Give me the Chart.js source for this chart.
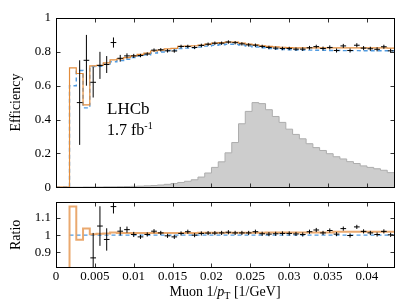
<!DOCTYPE html>
<html><head><meta charset="utf-8">
<script src="https://cdn.jsdelivr.net/npm/chart.js@4.4.1/dist/chart.umd.min.js"></script>
<style>
html,body{margin:0;padding:0;background:#fff;}
#wrap{position:relative;width:407px;height:305px;overflow:hidden;font-family:"Liberation Serif","Times New Roman",serif;color:#000;}
#c1{position:absolute;left:0;top:0;width:407px;height:200px;}
#c2{position:absolute;left:0;top:190px;width:407px;height:115px;}
.lbl{position:absolute;white-space:nowrap;}
</style></head><body>
<div id="wrap">
<canvas id="c1" width="407" height="200"></canvas>
<canvas id="c2" width="407" height="115"></canvas>
<div class="lbl" style="left:107px;top:99px;font-size:17px;line-height:20px;">LHCb</div>
<div class="lbl" style="left:107px;top:120px;font-size:16px;line-height:20px;">1.7 fb<span style="font-size:10px;position:relative;top:-6px">-1</span></div>
<div class="lbl" style="left:56px;width:338px;top:284px;text-align:center;font-size:14px;line-height:16px;">Muon 1/<i>p</i><span style="font-size:10px;position:relative;top:3px">T</span> [1/GeV]</div>
</div>
<script>
// ---- data (50 bins of 1/pT, width 0.00087 GeV^-1) ----
const binWidth = 0.00087;
const xMax = 0.0435;
const xTickValues = [0, 0.005, 0.01, 0.015, 0.02, 0.025, 0.03, 0.035, 0.04];
const xTickLabels = ["0", "0.005", "0.01", "0.015", "0.02", "0.025", "0.03", "0.035", "0.04"];
const effTickValues = [0, 0.2, 0.4, 0.6, 0.8, 1];
const effTickLabels = ["0", "0.2", "0.4", "0.6", "0.8", "1"];
const ratioTickValues = [0.9, 1, 1.1];
const ratioTickLabels = ["0.9", "1", "1.1"];

// data efficiency (black points)
const effData = [null, null, null, 0.50, 0.75, 0.62, 0.72, 0.725, 0.855, 0.762,
  0.776, 0.776, 0.778, 0.787, 0.81, 0.812, 0.806, 0.805, 0.832, 0.832,
  0.826, 0.838, 0.845, 0.851, 0.851, 0.858, 0.854, 0.847, 0.841, 0.839,
  0.832, 0.826, 0.822, 0.82, 0.82, 0.816, 0.816, 0.824, 0.831, 0.82,
  0.826, 0.808, 0.835, 0.808, 0.839, 0.822, 0.818, 0.815, 0.83, 0.806];
const effErr = [null, null, null, 0.25, 0.15, 0.09, 0.08, 0.05, 0.03, 0.02,
  0.015, 0.012, 0.01, 0.01, 0.01, 0.01, 0.01, 0.01, 0.01, 0.01,
  0.01, 0.01, 0.01, 0.01, 0.01, 0.01, 0.01, 0.01, 0.01, 0.01,
  0.01, 0.01, 0.01, 0.01, 0.01, 0.01, 0.011, 0.011, 0.011, 0.011,
  0.012, 0.012, 0.012, 0.012, 0.012, 0.012, 0.012, 0.012, 0.012, 0.012];
// orange simulation (solid step)
const effOrange = [0, 0, 0.705, 0.672, 0.487, 0.717, 0.72, 0.735, 0.752, 0.758,
  0.766, 0.776, 0.785, 0.792, 0.805, 0.81, 0.818, 0.82, 0.832, 0.834,
  0.836, 0.84, 0.846, 0.851, 0.855, 0.858, 0.857, 0.852, 0.846, 0.842,
  0.836, 0.832, 0.829, 0.827, 0.825, 0.824, 0.824, 0.824, 0.823, 0.823,
  0.823, 0.823, 0.823, 0.823, 0.823, 0.823, 0.823, 0.823, 0.823, 0.822];
// blue simulation (dashed step)
const effBlue = [0, 0, 0.60, 0.69, 0.469, 0.713, 0.714, 0.728, 0.741, 0.748,
  0.756, 0.766, 0.775, 0.782, 0.793, 0.799, 0.807, 0.81, 0.82, 0.822,
  0.824, 0.828, 0.834, 0.839, 0.842, 0.845, 0.844, 0.84, 0.834, 0.829,
  0.824, 0.82, 0.816, 0.814, 0.812, 0.811, 0.81, 0.81, 0.809, 0.809,
  0.808, 0.808, 0.807, 0.807, 0.807, 0.806, 0.806, 0.806, 0.806, 0.806];
// grey 1/pT distribution (arbitrary normalisation)
const histGrey = [0, 0, 0, 0, 0.001, 0.001, 0.001, 0.002, 0.002, 0.003,
  0.004, 0.005, 0.006, 0.008, 0.01, 0.013, 0.017, 0.022, 0.028, 0.035,
  0.044, 0.06, 0.084, 0.117, 0.15, 0.203, 0.264, 0.375, 0.448, 0.50,
  0.494, 0.458, 0.418, 0.383, 0.343, 0.312, 0.286, 0.257, 0.234, 0.217,
  0.198, 0.18, 0.167, 0.151, 0.14, 0.126, 0.117, 0.109, 0.1, 0.086];
// ratio panel
const ratioData = [null, null, null, null, null, 0.868, 1.053, 0.975, 1.166, 1.023,
  1.032, 1.004, 0.99, 1.004, 1.023, 1.013, 0.996, 0.99, 1.01, 1.02,
  1.0, 1.01, 1.012, 1.012, 1.013, 1.017, 1.013, 1.013, 1.013, 1.02,
  1.008, 1.006, 1.008, 1.01, 1.01, 1.007, 1.004, 1.02, 1.03, 1.013,
  1.027, 1.006, 1.038, 0.998, 1.048, 1.022, 1.013, 1.004, 1.022, 1.002];
const ratioErr = [null, null, null, null, null, 0.145, 0.115, 0.065, 0.04, 0.025,
  0.018, 0.015, 0.012, 0.012, 0.012, 0.012, 0.012, 0.012, 0.012, 0.012,
  0.012, 0.012, 0.012, 0.012, 0.012, 0.012, 0.012, 0.012, 0.012, 0.012,
  0.012, 0.012, 0.012, 0.012, 0.012, 0.012, 0.012, 0.012, 0.012, 0.012,
  0.012, 0.012, 0.012, 0.012, 0.012, 0.012, 0.012, 0.012, 0.012, 0.012];
const ratioOrange = [0, 0, 1.166, 0.973, 1.038, 1.006, 1.008, 1.01, 1.015, 1.012,
  1.012, 1.012, 1.012, 1.012, 1.012, 1.012, 1.012, 1.012, 1.012, 1.012,
  1.012, 1.014, 1.014, 1.014, 1.014, 1.014, 1.014, 1.014, 1.014, 1.014,
  1.014, 1.016, 1.016, 1.016, 1.016, 1.016, 1.016, 1.016, 1.016, 1.016,
  1.016, 1.02, 1.02, 1.02, 1.02, 1.02, 1.02, 1.02, 1.02, 1.02];
const ratioBlue = [null, null, 1, 1, 1, 1, 1, 1, 1, 1,
  1, 1, 1, 1, 1, 1, 1, 1, 1, 1,
  1, 1, 1, 1, 1, 1, 1, 1, 1, 1,
  1, 1, 1, 1, 1, 1, 1, 1, 1, 1,
  1, 1, 1, 1, 1, 1, 1, 1, 1, 1];

// ---- helpers ----
const FONT = '"Liberation Serif","Times New Roman",serif';
function steps(vals) {
  const pts = [];
  let last = null;
  vals.forEach((v, i) => { if (v !== null) { pts.push({x: i * binWidth, y: v}); last = v; } });
  pts.push({x: vals.length * binWidth, y: last});
  return pts;
}

const framePlugin = {
  id: 'framePlugin',
  afterDatasetsDraw(chart, args, opts) {
    const {ctx, chartArea: a, scales} = chart;
    const xs = scales.x, ys = scales.y;
    if (opts.vals) {
      ctx.save();
      ctx.beginPath();
      ctx.rect(a.left, a.top, a.right - a.left, a.bottom - a.top);
      ctx.clip();
      ctx.strokeStyle = '#000';
      ctx.lineWidth = 1;
      ctx.beginPath();
      opts.vals.forEach((v, i) => {
        if (v === null || v < ys.min || v > ys.max) return;
        const c = (i + 0.5) * binWidth;
        const px = xs.getPixelForValue(c);
        const py = ys.getPixelForValue(v);
        ctx.moveTo(xs.getPixelForValue(c - 0.42 * binWidth), py);
        ctx.lineTo(xs.getPixelForValue(c + 0.42 * binWidth), py);
        const e = opts.errs[i];
        ctx.moveTo(px, ys.getPixelForValue(v + e));
        ctx.lineTo(px, ys.getPixelForValue(v - e));
      });
      ctx.stroke();
      ctx.restore();
    }
    ctx.save();
    ctx.strokeStyle = '#333';
    ctx.lineWidth = 1;
    ctx.beginPath();
    const L = Math.floor(a.left) + 0.5, R = Math.round(a.right) + 0.5;
    const T = Math.floor(a.top) + 0.5, B = Math.round(a.bottom) + 0.5;
    xTickValues.forEach(v => {
      const px = Math.round(xs.getPixelForValue(v)) + 0.5;
      ctx.moveTo(px, T); ctx.lineTo(px, T + 4);
      ctx.moveTo(px, B); ctx.lineTo(px, B - 4);
    });
    opts.yTicks.forEach(v => {
      const py = Math.round(ys.getPixelForValue(v)) + 0.5;
      ctx.moveTo(L, py); ctx.lineTo(L + 4, py);
      ctx.moveTo(R, py); ctx.lineTo(R - 4, py);
    });
    ctx.stroke();
    ctx.strokeStyle = '#000';
    ctx.strokeRect(L, T, R - L, B - T);
    ctx.restore();
  }
};

function xScale(showLabels, height) {
  return {
    type: 'linear', min: 0, max: xMax, display: showLabels,
    grid: {display: false, drawTicks: false}, border: {display: false},
    afterBuildTicks: s => { s.ticks = xTickValues.map(v => ({value: v})); },
    afterFit: s => { if (height) s.height = height; },
    ticks: {
      autoSkip: false, maxRotation: 0, padding: 2, color: '#000',
      font: {family: FONT, size: 13},
      callback: (v, i) => xTickLabels[i]
    }
  };
}
function yScale(min, max, tv, tl, title, titlePad) {
  return {
    type: 'linear', min: min, max: max,
    grid: {display: false, drawTicks: false}, border: {display: false},
    afterBuildTicks: s => { s.ticks = tv.map(v => ({value: v})); },
    afterFit: s => { s.width = 56; },
    ticks: {
      padding: 5, color: '#000', font: {family: FONT, size: 13},
      callback: (v, i) => tl[i]
    },
    title: {display: true, text: title, color: '#000', font: {family: FONT, size: 14}, padding: {top: titlePad, bottom: 0}}
  };
}

const common = {
  responsive: false, animation: false, devicePixelRatio: 1,
  plugins: {legend: {display: false}, tooltip: {enabled: false}},
  elements: {point: {radius: 0}, line: {tension: 0}}
};

new Chart(document.getElementById('c1'), {
  type: 'line',
  data: {datasets: [
    {data: steps(effOrange), stepped: 'before', borderColor: 'rgb(226,140,60)', borderWidth: 1.2, fill: false, order: 1},
    {data: steps(effBlue), stepped: 'before', borderColor: 'rgb(80,155,225)', borderWidth: 1.4, borderDash: [4, 3], fill: false, order: 2},
    {data: steps(histGrey), stepped: 'before', borderColor: '#adadad', borderWidth: 1, backgroundColor: '#cdcdcd', fill: 'origin', order: 3}
  ]},
  options: Object.assign({}, common, {
    layout: {padding: {top: 18, bottom: 8, left: 0, right: 13}},
    scales: {x: xScale(false, 0), y: yScale(0, 1, effTickValues, effTickLabels, 'Efficiency', 7.6)},
    plugins: Object.assign({}, common.plugins, {framePlugin: {vals: effData, errs: effErr, yTicks: effTickValues}})
  }),
  plugins: [framePlugin]
});

new Chart(document.getElementById('c2'), {
  type: 'line',
  data: {datasets: [
    {data: steps(ratioOrange), stepped: 'before', borderColor: 'rgba(232,160,95,0.9)', borderWidth: 2, fill: false, order: 1},
    {data: steps(ratioBlue), stepped: 'before', borderColor: 'rgb(80,155,225)', borderWidth: 1.4, borderDash: [4, 3], fill: false, order: 2}
  ]},
  options: Object.assign({}, common, {
    layout: {padding: {top: 11, bottom: 0, left: 0, right: 13}},
    scales: {x: xScale(true, 38), y: yScale(0.815, 1.188, ratioTickValues, ratioTickLabels, 'Ratio', 7.6)},
    plugins: Object.assign({}, common.plugins, {framePlugin: {vals: ratioData, errs: ratioErr, yTicks: ratioTickValues}})
  }),
  plugins: [framePlugin]
});
</script>
</body></html>
